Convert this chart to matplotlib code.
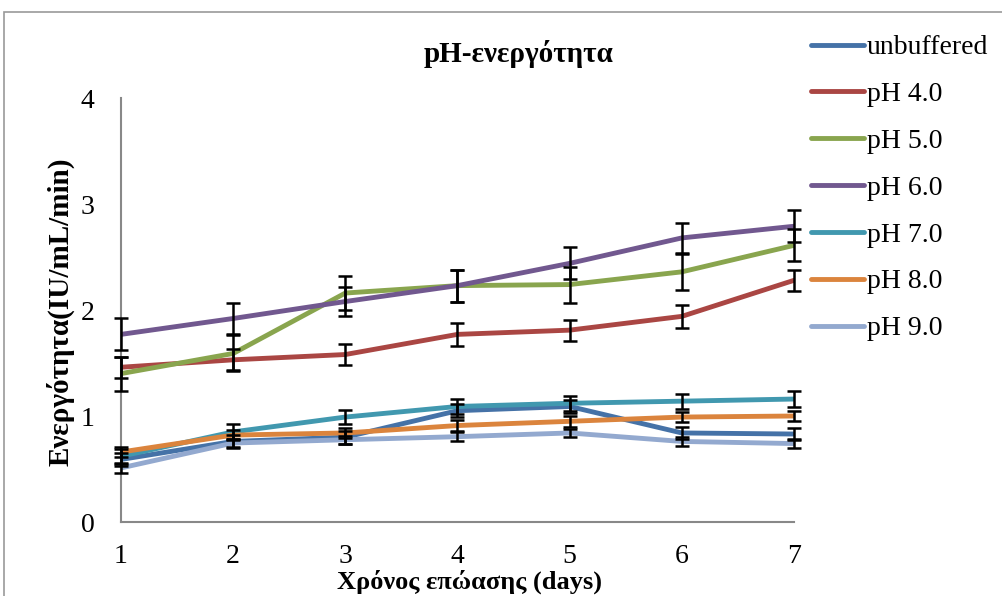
import matplotlib
matplotlib.use("Agg")
import matplotlib.pyplot as plt
from matplotlib.patches import Rectangle

plt.rcParams['font.family'] = ['Liberation Serif', 'DejaVu Serif']

# Δεδομένα
days = [1, 2, 3, 4, 5, 6, 7]
labels = ["unbuffered", "pH 4.0", "pH 5.0", "pH 6.0", "pH 7.0", "pH 8.0", "pH 9.0"]
colors = ["#4572A7", "#AA4643", "#89A54E", "#71588F", "#4198AF", "#DB843D", "#93A9CF"]

unbuffered = [0.59, 0.76, 0.80, 1.05, 1.09, 0.84, 0.83]
ph4 = [1.46, 1.53, 1.58, 1.77, 1.81, 1.94, 2.28]
ph5 = [1.40, 1.59, 2.16, 2.23, 2.24, 2.36, 2.61]
ph6 = [1.77, 1.92, 2.08, 2.23, 2.44, 2.68, 2.79]
ph7 = [0.62, 0.85, 0.99, 1.09, 1.12, 1.14, 1.16]
ph8 = [0.66, 0.82, 0.84, 0.91, 0.95, 0.99, 1.00]
ph9 = [0.51, 0.745, 0.776, 0.805, 0.84, 0.76, 0.74]

err_unbuffered = [0.06, 0.06, 0.06, 0.06, 0.06, 0.06, 0.06]
err_ph4 = [0.10, 0.10, 0.10, 0.11, 0.10, 0.11, 0.10]
err_ph5 = [0.16, 0.17, 0.16, 0.15, 0.17, 0.17, 0.15]
err_ph6 = [0.15, 0.15, 0.14, 0.15, 0.15, 0.14, 0.15]
err_ph7 = [0.07, 0.07, 0.07, 0.07, 0.07, 0.07, 0.075]
err_ph8 = [0.05, 0.05, 0.05, 0.05, 0.05, 0.05, 0.05]
err_ph9 = [0.05, 0.04, 0.04, 0.04, 0.04, 0.04, 0.04]

series = [unbuffered, ph4, ph5, ph6, ph7, ph8, ph9]
errors = [err_unbuffered, err_ph4, err_ph5, err_ph6, err_ph7, err_ph8, err_ph9]

fig = plt.figure(figsize=(10.03, 5.96), dpi=100)
ax = fig.add_axes([121 / 1003, 1 - 522 / 596, (794 - 121) / 1003, (522 - 98) / 596])

for vals, err, col, lab in zip(series, errors, colors, labels):
    ax.plot(days, vals, color=col, lw=3.5, label=lab, zorder=3, solid_capstyle='round')
for vals, err in zip(series, errors):
    ax.errorbar(days, vals, yerr=err, fmt='none', ecolor='black', elinewidth=1.8,
                capsize=5, capthick=1.8, zorder=4, clip_on=False)

ax.set_xlim(1, 7)
ax.set_ylim(0, 4)
ax.set_xticks(days)
ax.set_yticks([0, 1, 2, 3, 4])
ax.tick_params(length=0, labelsize=20, colors='black')
ax.tick_params(axis='y', pad=19)
ax.tick_params(axis='x', pad=16)
for s in ['top', 'right']:
    ax.spines[s].set_visible(False)
for s in ['left', 'bottom']:
    ax.spines[s].set_color('#888888')
    ax.spines[s].set_linewidth(1.5)

fig.text(518 / 1003, 1 - 54 / 596, "pH-ενεργότητα", ha='center', va='center',
         fontsize=21, fontweight='bold')
fig.text(470 / 1003, 1 - 582 / 596, "Χρόνος επώασης (days)", ha='center', va='center',
         fontsize=19, fontweight='bold')
fig.text(60 / 1003, 1 - 312 / 596, "Ενεργότητα(IU/mL/min)", ha='center', va='center',
         fontsize=21, fontweight='bold', rotation=90)

leg = fig.legend(loc='upper left', bbox_to_anchor=(797 / 1003, 1 - 21 / 596),
                 frameon=False, fontsize=20, handlelength=1.9, handletextpad=0.12,
                 labelspacing=0.77, borderpad=0)

# πλαίσιο γραφήματος
fig.patches.append(Rectangle((4 / 1003, -0.1), 1.2, 1 - 12 / 596 + 0.1, transform=fig.transFigure,
                             fill=False, edgecolor='#999999', lw=1.2))

fig.savefig("out.png", dpi=100)
